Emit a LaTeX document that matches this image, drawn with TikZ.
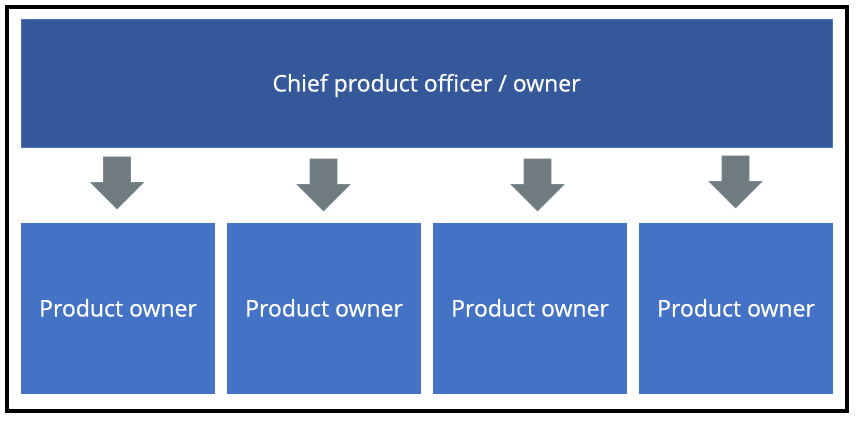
\documentclass[tikz,border=0pt]{standalone}
\usepackage{fontspec}
\setmainfont{Open Sans}
\newfontfamily\boxlabelfont{Open Sans}[FakeBold=0.6]
\definecolor{topblue}{HTML}{34589A}
\definecolor{topedge}{HTML}{4A72BE}
\definecolor{boxblue}{HTML}{4472C4}
\definecolor{arrowgray}{HTML}{707B80}
\definecolor{arrowedge}{HTML}{7E8A90}
\begin{document}
\begin{tikzpicture}[x=1pt,y=-1pt,
  labelfont/.style={text=white,font=\boxlabelfont\fontsize{23}{26}\selectfont,text height=16pt,text depth=0pt,inner sep=0pt},
  chiefbox/.style={labelfont,draw=topedge,line width=0.8pt,fill=topblue,minimum width=811pt,minimum height=128pt},
  ownerbox/.style={labelfont,fill=boxblue,minimum width=194pt,minimum height=171pt},
  blockarrow/.pic={\path[fill=arrowgray,draw=arrowedge,line width=0.6pt,line join=miter]
    (-13.5,0) -- (13.5,0) -- (13.5,25.5) -- (26.5,25.5) -- (0,52) -- (-26.5,25.5) -- (-13.5,25.5) -- cycle;}
]
\useasboundingbox (0,0) rectangle (859,422);
\draw[line width=4pt] (7,7) rectangle (846.5,411);
\node[chiefbox] (chief) at (426.5,83.5) {Chief product officer / owner};
\node[ownerbox] (po1) at (118,308.5) {Product owner};
\node[ownerbox] (po2) at (324,308.5) {Product owner};
\node[ownerbox] (po3) at (530,308.5) {Product owner};
\node[ownerbox] (po4) at (736,308.5) {Product owner};
\pic (a1) at (117,157) {blockarrow};
\pic (a2) at (323.5,159) {blockarrow};
\pic (a3) at (537.5,159) {blockarrow};
\pic (a4) at (735.5,156) {blockarrow};
\end{tikzpicture}
\end{document}
